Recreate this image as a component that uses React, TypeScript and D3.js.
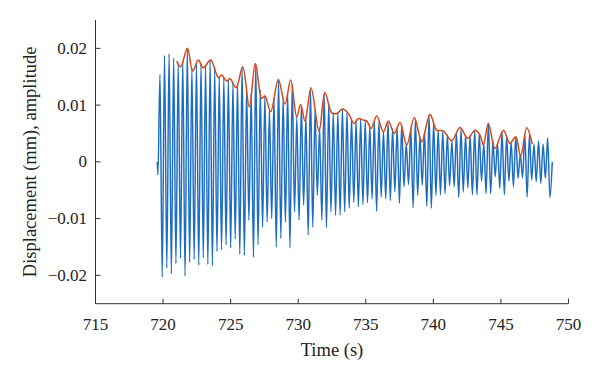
import React from "react";
import * as d3 from "d3";

// blue signal: one peak and one trough per cycle
const T_START = 719.77; // time of first peak (s)
const PERIOD = 0.3375; // s per cycle
const startT = [719.57, 719.62];
const startV = [0, -0.0023];
const endT = [748.8];
const endV = [0];

const peaks = [
  0.0154, 0.0188, 0.0191, 0.0183, 0.0174, 0.0178, 0.02, 0.0166, 0.0173, 0.0172,
  0.017, 0.0179, 0.0163, 0.0149, 0.0148, 0.0145, 0.0139, 0.0139, 0.0167, 0.0126,
  0.0121, 0.0173, 0.0127, 0.0116, 0.0092, 0.0113, 0.0145, 0.0113, 0.0122, 0.0137,
  0.0079, 0.0098, 0.008, 0.0128, 0.0092, 0.006, 0.012, 0.0102, 0.0086, 0.0087,
  0.0093, 0.0087, 0.0076, 0.0072, 0.0075, 0.0073, 0.0063, 0.0071, 0.0072, 0.0054,
  0.0071, 0.0059, 0.006, 0.0066, 0.0032, 0.006, 0.0075, 0.0045, 0.0054, 0.0083,
  0.007, 0.0056, 0.0055, 0.0047, 0.0037, 0.0051, 0.0058, 0.0047, 0.0047, 0.0055,
  0.0049, 0.0033, 0.0068, 0.0037, 0.0033, 0.0053, 0.0045, 0.0035, 0.0044, 0.0013,
  0.0048, 0.0047, 0.0031, 0.0037, 0.0031, 0.0042,
];

const troughs = [
  -0.0203, -0.0187, -0.0197, -0.0179, -0.017, -0.0201, -0.0177, -0.0172, -0.0182, -0.0169,
  -0.0181, -0.0183, -0.0158, -0.0155, -0.0146, -0.0152, -0.0136, -0.0163, -0.0165, -0.0103,
  -0.0168, -0.0146, -0.0115, -0.0106, -0.01, -0.015, -0.0135, -0.0106, -0.0152, -0.0088,
  -0.0103, -0.0076, -0.0129, -0.0115, -0.0059, -0.0103, -0.0116, -0.0088, -0.0094, -0.0094,
  -0.0088, -0.0082, -0.0071, -0.0079, -0.0075, -0.0072, -0.0065, -0.0087, -0.0062, -0.0065,
  -0.0068, -0.0053, -0.0073, -0.0044, -0.004, -0.0081, -0.0059, -0.0041, -0.0078, -0.0082,
  -0.0059, -0.0058, -0.0056, -0.0042, -0.0044, -0.0063, -0.0053, -0.0046, -0.0058, -0.0058,
  -0.0034, -0.0056, -0.0056, -0.0026, -0.0047, -0.0058, -0.0034, -0.0044, -0.0029, -0.0028,
  -0.0062, -0.0032, -0.0035, -0.0038, -0.0029, -0.0063,
];

// red envelope knots
const envT = [
  721.01, 721.3, 721.8, 722.19, 722.61, 722.98, 723.52, 724.09, 724.34, 724.71,
  724.95, 725.4, 725.89, 726.38, 726.83, 727.3, 727.54, 727.96, 728.53, 729.02,
  729.44, 729.89, 730.18, 730.5, 730.95, 731.54, 731.98, 732.48, 732.85, 733.29,
  733.71, 734.13, 734.45, 734.82, 735.07, 735.39, 735.81, 736.3, 736.67, 737.11,
  737.53, 738.03, 738.59, 739.14, 739.75, 740.25, 740.74, 741.36, 741.97, 742.54,
  743.08, 743.45, 743.7, 744.07, 744.56, 745.18, 745.67, 746.09, 746.46, 746.91,
  747.32,
];
const envV = [
  0.01776, 0.01676, 0.02, 0.016, 0.01794, 0.01658, 0.01794, 0.01482, 0.01529, 0.01423,
  0.0147, 0.01306, 0.01676, 0.00971, 0.01735, 0.01118, 0.01159, 0.00882, 0.01453, 0.01018,
  0.01441, 0.00794, 0.01012, 0.00718, 0.01306, 0.00541, 0.01223, 0.00864, 0.00853, 0.0093,
  0.00853, 0.00677, 0.00765, 0.00735, 0.00724, 0.00588, 0.00806, 0.0053, 0.00718, 0.005,
  0.00694, 0.00295, 0.00782, 0.00353, 0.00841, 0.00559, 0.00547, 0.0037, 0.00606, 0.00412,
  0.00559, 0.00471, 0.00295, 0.00677, 0.00236, 0.00559, 0.00324, 0.00441, 0.001, 0.006,
  0.00312,
];

const xTicks = [715, 720, 725, 730, 735, 740, 745, 750];
const yTicks = [-0.02, -0.01, 0, 0.01, 0.02];
const yTickLabels = ["\u22120.02", "\u22120.01", "0", "0.01", "0.02"];

const W = 600;
const H = 374;
const left = 95.5;
const right = 568.5;
const top = 20;
const bottom = 303.7;
const font = "'Liberation Serif', 'Times New Roman', serif";

export default function App() {
  const x = d3.scaleLinear().domain([715, 750]).range([left, right]);
  const y = d3.scaleLinear().domain([-0.025, 0.025]).range([bottom, top]);

  const signal: [number, number][] = [];
  startT.forEach((t, i) => signal.push([t, startV[i]]));
  peaks.forEach((p, i) => {
    const t = T_START + i * PERIOD;
    signal.push([t, p]);
    signal.push([t + PERIOD / 2, troughs[i]]);
  });
  endT.forEach((t, i) => signal.push([t, endV[i]]));

  const line = d3
    .line<[number, number]>()
    .x((d) => x(d[0]))
    .y((d) => y(d[1]))
    .curve(d3.curveMonotoneX);

  const env: [number, number][] = envT.map((t, i) => [t, envV[i]]);
  const envLine = d3
    .line<[number, number]>()
    .x((d) => x(d[0]))
    .y((d) => y(d[1]))
    .curve(d3.curveCatmullRom.alpha(0.5));

  return (
    <svg
      width={W}
      height={H}
      style={{ position: "absolute", left: 0, top: 0, background: "#fff" }}
    >
      <path d={line(signal) || ""} fill="none" stroke="#1c6dc0" strokeWidth={1.45} />
      <path d={envLine(env) || ""} fill="none" stroke="#d9461a" strokeWidth={1.5} />

      {/* axes */}
      <line x1={left} x2={left} y1={top} y2={bottom} stroke="#333" strokeWidth={1} />
      <line x1={left} x2={right} y1={bottom} y2={bottom} stroke="#333" strokeWidth={1} />
      {xTicks.map((t) => (
        <g key={t}>
          <line x1={x(t)} x2={x(t)} y1={bottom} y2={bottom - 5} stroke="#333" />
          <text
            x={x(t)}
            y={330}
            textAnchor="middle"
            fontFamily={font}
            fontSize={17}
            fill="#222"
          >
            {t}
          </text>
        </g>
      ))}
      {yTicks.map((v, i) => (
        <g key={v}>
          <line x1={left} x2={left + 5} y1={y(v)} y2={y(v)} stroke="#333" />
          <text
            x={87}
            y={y(v)}
            dy="0.33em"
            textAnchor="end"
            fontFamily={font}
            fontSize={17}
            fill="#222"
          >
            {yTickLabels[i]}
          </text>
        </g>
      ))}
      <text
        x={(left + right) / 2}
        y={356}
        textAnchor="middle"
        fontFamily={font}
        fontSize={18.5}
        fill="#222"
      >
        Time (s)
      </text>
      <text
        transform={`translate(36, ${(top + bottom) / 2}) rotate(-90)`}
        textAnchor="middle"
        fontFamily={font}
        fontSize={18.5}
        fill="#222"
      >
        Displacement (mm), amplitude
      </text>
    </svg>
  );
}
